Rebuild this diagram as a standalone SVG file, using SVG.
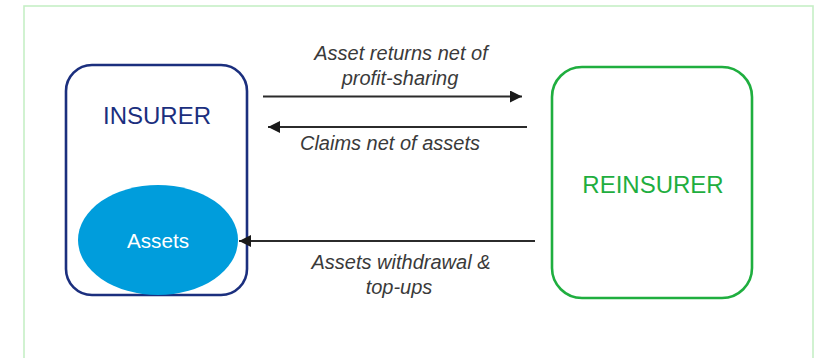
<svg xmlns="http://www.w3.org/2000/svg" width="821" height="358" viewBox="0 0 821 358">
<style>
.lbl{font-family:"Liberation Sans",Arial,sans-serif;font-style:italic;font-size:20px;fill:#3a3a3a;text-anchor:middle}
.title{font-family:"Liberation Sans",Arial,sans-serif;font-size:24px;text-anchor:middle}
.conn{stroke:#2b2b2b;stroke-width:2.2;fill:none}
</style>
<defs>
<marker id="ah" viewBox="0 0 12 12" refX="12" refY="6" markerWidth="12" markerHeight="12" markerUnits="userSpaceOnUse" orient="auto">
<path d="M0,0 L12,6 L0,12 Z" fill="#1a1a1a"/>
</marker>
</defs>
<rect width="821" height="358" fill="#ffffff"/>
<rect x="24" y="6" width="789" height="370" fill="none" stroke="#c6efc6" stroke-width="1.6"/>
<g id="insurer">
<rect x="66" y="65" width="181" height="230" rx="26" ry="26" fill="#ffffff" stroke="#1b2f7e" stroke-width="2.6"/>
<text class="title" x="157" y="124" fill="#1b2f7e">INSURER</text>
</g>
<g id="assets">
<ellipse cx="158" cy="240" rx="80" ry="55" fill="#009ddc"/>
<text x="158" y="248" font-family="'Liberation Sans',Arial,sans-serif" font-size="21" fill="#ffffff" text-anchor="middle" textLength="62" lengthAdjust="spacingAndGlyphs">Assets</text>
</g>
<g id="reinsurer">
<rect x="552" y="67" width="200" height="231" rx="30" ry="30" fill="#ffffff" stroke="#1fae3f" stroke-width="2.6"/>
<text class="title" x="653" y="193" fill="#1fae3f">REINSURER</text>
</g>
<g id="connectors">
<line class="conn" x1="263" y1="96.5" x2="522" y2="96.5" marker-end="url(#ah)"/>
<line class="conn" x1="527" y1="127" x2="268" y2="127" marker-end="url(#ah)"/>
<line class="conn" x1="535" y1="241" x2="239" y2="241" marker-end="url(#ah)"/>
</g>
<g id="labels">
<text class="lbl" x="401" y="60">Asset returns net of</text>
<text class="lbl" x="400" y="85">profit-sharing</text>
<text class="lbl" x="390" y="150">Claims net of assets</text>
<text class="lbl" x="401" y="269">Assets withdrawal &amp;</text>
<text class="lbl" x="399" y="294">top-ups</text>
</g>
</svg>
